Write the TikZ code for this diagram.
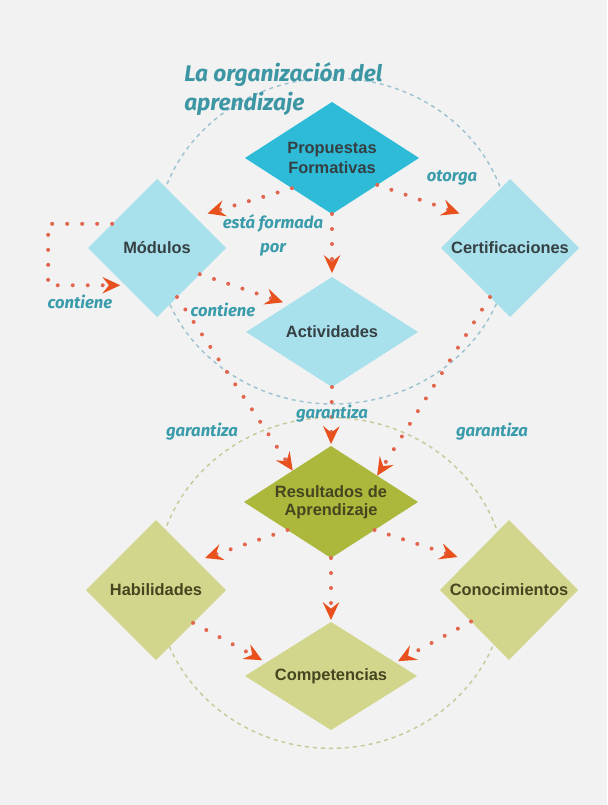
\documentclass[tikz,border=0pt]{standalone}
\usepackage{fontspec}
\setmainfont{Liberation Sans}
\newfontfamily\lblfont{Fira Sans}
\usetikzlibrary{shapes.geometric,arrows.meta,calc}
\definecolor{bgc}{HTML}{F2F2F2}
\definecolor{propfill}{HTML}{2DBBD8}
\definecolor{cyanlt}{HTML}{A8E0EC}
\definecolor{resfill}{HTML}{ABB83C}
\definecolor{olivelt}{HTML}{D2D68C}
\definecolor{labelteal}{HTML}{3A9CAB}
\definecolor{titleteal}{HTML}{3D96A3}
\definecolor{arrred}{HTML}{E8501E}
\definecolor{dotred}{HTML}{E2664E}
\definecolor{bluedash}{HTML}{9EC3D0}
\definecolor{olivedash}{HTML}{C9C99C}
\definecolor{darktext}{HTML}{354043}
\definecolor{olivetext}{HTML}{45451F}
\begin{document}
\begin{tikzpicture}[x=0.75pt,y=-0.75pt,
  dia/.style={diamond, draw=none, inner sep=0pt, outer sep=0pt},
  dtext/.style={font=\bfseries\fontsize{12.3}{15}\selectfont, text=darktext, align=center},
  otext/.style={font=\bfseries\fontsize{12.3}{13.5}\selectfont, text=olivetext, align=center},
  lbl/.style={font=\lblfont\bfseries\itshape\fontsize{12.5}{18}\selectfont, text=labelteal, align=center, inner sep=0pt},
  ttl/.style={font=\lblfont\bfseries\itshape\fontsize{17}{21.75}\selectfont, text=titleteal, align=left, inner sep=0pt},
  arr/.style={draw=dotred, line width=3pt, line cap=round, dash pattern=on 0pt off 11.25pt,
    -{Stealth[length=13.5pt,width=12.5pt,inset=5pt,line width=0pt,color=arrred]}},
  ring/.style={line width=1.1pt, dash pattern=on 3pt off 3pt},
]
\fill[bgc] (0,0) rectangle (607,805);
\useasboundingbox (0,0) rectangle (607,805);

% dashed ellipses
\draw[ring, draw=bluedash] (333,241) ellipse [x radius=132.75pt, y radius=122.25pt];
\draw[ring, draw=olivedash] (331,583) ellipse [x radius=131.25pt, y radius=124pt];

% title
\node[ttl, anchor=north west] (title) at (184,62) {La organización del\\aprendizaje};

% diamonds
\node[dia, fill=propfill, minimum width=130.5pt, minimum height=84pt,
  label={[dtext]center:{Propuestas\\Formativas}}] (prop) at (332,158) {};
\node[dia, fill=cyanlt, minimum width=103.5pt, minimum height=103.5pt,
  label={[dtext]center:Módulos}] (mod) at (157,248) {};
\node[dia, fill=cyanlt, minimum width=103.5pt, minimum height=103.5pt,
  label={[dtext]center:Certificaciones}] (cert) at (510,248) {};
\node[dia, fill=cyanlt, minimum width=129pt, minimum height=82.5pt,
  label={[dtext]center:Actividades}] (act) at (332,332) {};
\node[dia, fill=resfill, minimum width=130.5pt, minimum height=84pt,
  label={[otext]center:{Resultados de\\Aprendizaje}}] (res) at (331,502) {};
\node[dia, fill=olivelt, minimum width=105pt, minimum height=105pt,
  label={[otext]center:Habilidades}] (hab) at (156,590) {};
\node[dia, fill=olivelt, minimum width=103.5pt, minimum height=105pt,
  label={[otext]center:Conocimientos}] (con) at (509,590) {};
\node[dia, fill=olivelt, minimum width=129pt, minimum height=81pt,
  label={[otext]center:Competencias}] (comp) at (331,676) {};

% connectors
\draw[arr] ($(prop.west)!0.54!(prop.south)$) -- ($(mod.north east)+(16,0)$);
\draw[arr] (prop.south) -- ($(act.north)+(0,-4)$);
\draw[arr] ($(prop.east)!0.48!(prop.south)$) -- ($(cert.north west)+(-16,0)$);
\draw[arr] ($(mod.west)!0.35!(mod.north)$) -- ++(-64,0) |- ($(mod.west)!0.54!(mod.south)+(-5,0)$);
\draw[arr] ($(mod.east)!0.38!(mod.south)$) -- ($(act.west)!0.43!(act.north)+(0,-6)$);
\draw[arr] ($(mod.east)!0.71!(mod.south)$) -- ($(res.west)!0.56!(res.north)$);
\draw[arr] (act.south) -- ($(res.north)+(0,-2)$);
\draw[arr] ($(cert.west)!0.71!(cert.south)$) -- ($(res.north)!0.53!(res.east)$);
\draw[arr] (res.south west) -- ($(hab.north east)+(14,3)$);
\draw[arr] (res.south east) -- ($(con.north west)+(-17,2)$);
\draw[arr] (res.south) -- ($(comp.north)+(0,-2)$);
\draw[arr] ($(hab.east)!0.47!(hab.south)$) -- ($(comp.west)!0.2!(comp.north)+(0,-5)$);
\draw[arr] ($(con.west)!0.45!(con.south)$) -- ($(comp.north)!0.78!(comp.east)+(0,-3)$);

% connector labels
\node[lbl] (l1) at (273,235) {está formada\\por};
\node[lbl] (l2) at (452,178) {otorga};
\node[lbl] (l3) at (80,302) {contiene};
\node[lbl] (l4) at (223,310) {contiene};
\node[lbl] (l5) at (202,432) {garantiza};
\node[lbl] (l6) at (332,414) {garantiza};
\node[lbl] (l7) at (492,432) {garantiza};
\end{tikzpicture}
\end{document}
